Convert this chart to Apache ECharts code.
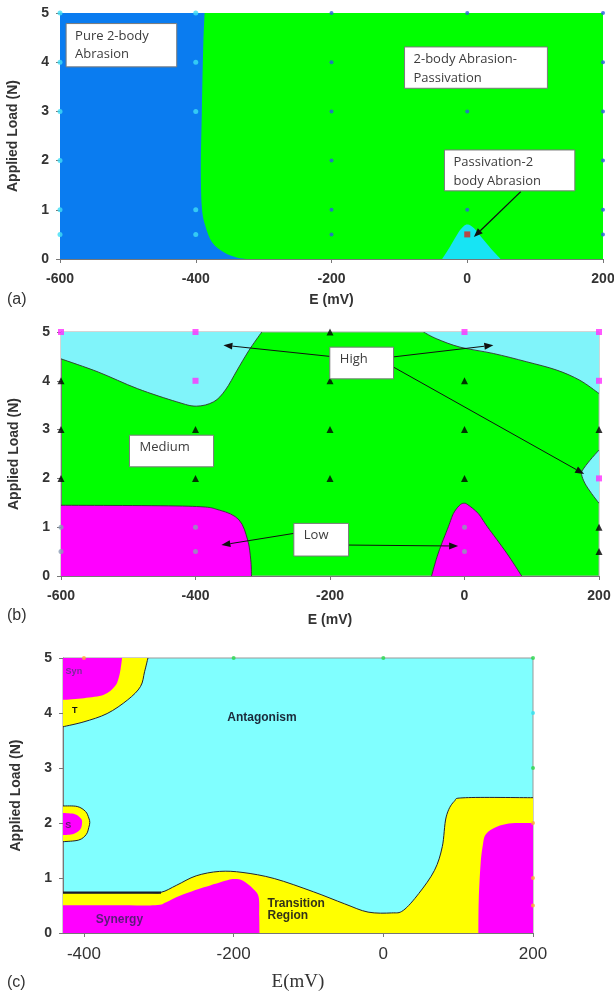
<!DOCTYPE html>
<html><head><meta charset="utf-8">
<script src="https://cdn.jsdelivr.net/npm/echarts@6/dist/echarts.min.js"></script>
<style>html,body{margin:0;padding:0;background:#fff}#c{width:614px;height:992px}</style>
</head><body><div id="c"></div>
<script>
// ---------- axis ticks ----------
const xTicksAB = [-600, -400, -200, 0, 200];
const xTicksC = [-400, -200, 0, 200];
const yTicks = [0, 1, 2, 3, 4, 5];

// ---------- panel (a): region boundaries [E (mV), load (N)] ----------
const aBlueCurve = [[-387,5],[-389,4.3],[-391,3],[-392.5,1.9],[-391,1.05],[-386,0.68],[-376,0.34],[-358,0.13],[-340,0.03],[-326,0]];
const aBlueEdge = [[-600,0],[-600,5]];
const aCyanCurve = [[-37,0],[-25,0.26],[-13.5,0.53],[-5,0.67],[1,0.70],[9.6,0.63],[24,0.39],[38.4,0.155],[49,0]];
const aCyanPts = [[-600,5],[-600,4],[-600,3],[-600,2],[-600,1],[-600,0.5],[-400,5],[-400,4],[-400,3],[-400,1],[-400,0.5]];
const aBluePts = [[-200,5],[-200,4],[-200,3],[-200,2],[-200,1],[-200,0.5],[0,5],[0,4],[0,3],[0,2],[0,1],[200,5],[200,4],[200,3],[200,2],[200,1],[200,0.5]];
const aRedPts = [[0,0.5]];
const aLabelText = [['Pure 2-body','Abrasion'], ['2-body Abrasion-','Passivation'], ['Passivation-2','body Abrasion']];
const aLabelBox = [[-591,4.785,-428,3.905], [-92.4,4.31,118.1,3.47], [-33.6,2.216,158.5,1.385]];
const aArrows = [[[78.9,1.37],[9.7,0.446]]];

// ---------- panel (b) ----------
const bCyanTLCurve = [[-301.5,5],[-320.7,4.62],[-338,4.22],[-355.6,3.81],[-373,3.57],[-399,3.48],[-428,3.57],[-486.5,3.84],[-544.7,4.18],[-600,4.45]];
const bCyanTLEdge = [[-600,5]];
const bCyanTRCurve = [[-61,5],[-41.3,4.86],[-6.7,4.69],[42.8,4.56],[92.4,4.39],[137,4.22],[171.6,4.01],[200,3.74]];
const bCyanTREdge = [[200,5]];
const bCyanRCurve = [[200,2.58],[186.5,2.37],[175.6,2.17],[174.1,2.08],[179,1.90],[189,1.69],[200,1.49]];
const bMagLCurve = [[-600,1.45],[-411,1.43],[-364.4,1.35],[-335.3,1.15],[-322.5,0.74],[-317.8,0.33],[-316.7,0]];
const bMagLEdge = [[-600,0]];
const bMagMCurve = [[-49,0],[-39,0.47],[-24,1.01],[-16.5,1.28],[-8,1.44],[-1.5,1.49],[5,1.46],[20.5,1.28],[34,1.01],[62.7,0.47],[85,0]];
const bSquarePts = [[-600,5],[-400,5],[0,5],[200,5],[-400,4],[200,4],[200,2]];
const bTrianglePts = [[-200,5],[-600,4],[-200,4],[0,4],[-600,3],[-400,3],[-200,3],[0,3],[200,3],[-600,2],[-400,2],[-200,2],[0,2],[200,1],[200,0.5]];
const bGrayPts = [[-600,1],[-600,0.5],[-400,1],[-400,0.5],[0,1],[0,0.5]];
const bLabelText = [['High'], ['Medium'], ['Low']];
const bLabelBox = [[-200.3,4.69,-105.5,4.04], [-498.2,2.885,-373.1,2.237], [-253.8,1.078,-172.4,0.409]];
const bArrows = [
  [[-200.3,4.5],[-358.5,4.73]],
  [[-105.5,4.49],[42.9,4.73]],
  [[-105.5,4.28],[177.9,2.09]],
  [[-253.8,0.873],[-361.5,0.634]],
  [[-172.4,0.634],[-9.5,0.614]]
];

// ---------- panel (c) ----------
const cYelTLCurve = [[-314.5,5],[-319,4.75],[-324.5,4.48],[-341.5,4.24],[-369,3.99],[-400,3.84],[-428,3.75]];
const cMagTLCurve = [[-349,5],[-351,4.8],[-354,4.62],[-359,4.48],[-373.4,4.33],[-400,4.27],[-428,4.24]];
const cTLEdge = [[-428,5]];
const cYelMidCurve = [[-428,2.31],[-409,2.30],[-397.9,2.21],[-393.5,2.09],[-392.2,2.01],[-393.5,1.92],[-397,1.79],[-407,1.69],[-428,1.66]];
const cMagMidCurve = [[-428,2.18],[-412,2.16],[-404,2.08],[-402.5,2.0],[-405,1.88],[-414,1.8],[-428,1.78]];
const cYelBotCurve = [[-428,0.735],[-320,0.735],[-297,0.74],[-276,0.87],[-250,1.04],[-218.8,1.12],[-187.5,1.10],[-145.7,0.99],[-93.5,0.75],[-51.7,0.53],[-20.4,0.38],[11,0.365],[26.6,0.41],[47.5,0.72],[68.4,1.14],[78.8,1.57],[84,2.11],[94.5,2.39],[110,2.46],[200,2.46]];
const cYelBotEdge = [[200,0],[-428,0]];
const cMagBLCurve = [[-428,0.504],[-360,0.504],[-305,0.504],[-290,0.56],[-271,0.68],[-239.7,0.83],[-208.4,0.96],[-198,0.98],[-187.5,0.95],[-174.4,0.81],[-166.6,0.656],[-165.8,0.3],[-165.5,0]];
const cMagBLEdge = [[-428,0]];
const cMagBRCurve = [[127,0],[127.5,0.6],[130,1.26],[133,1.6],[136.3,1.78],[146.7,1.9],[167.6,1.99],[200,2.0]];
const cMagBREdge = [[200,0]];
const cThickLine = [[-428,0.735],[-297,0.735]];
const cOrangePts = [[-400,5],[200,2],[200,1],[200,0.5]];
const cGreenPts = [[-200,5],[0,5],[200,5],[200,3]];
const cCyanPts = [[200,4]];
const cTexts = ['Syn','T','S','Antagonism','Synergy','Transition','Region'];
const cTextPos = [[-424.5,4.75],[-416,4.04],[-425,1.95],[-208.5,3.92],[-384.3,0.243],[-154.8,0.527],[-154.8,0.31]];

// ---------- helpers ----------
function catmull(pts) {
  let d = 'M' + pts[0][0] + ' ' + pts[0][1];
  for (let i = 0; i < pts.length - 1; i++) {
    const p0 = pts[i-1] || pts[i], p1 = pts[i], p2 = pts[i+1], p3 = pts[i+2] || pts[i+1];
    const c1x = p1[0] + (p2[0]-p0[0])/6, c1y = p1[1] + (p2[1]-p0[1])/6;
    const c2x = p2[0] - (p3[0]-p1[0])/6, c2y = p2[1] - (p3[1]-p1[1])/6;
    d += ' C' + c1x + ' ' + c1y + ' ' + c2x + ' ' + c2y + ' ' + p2[0] + ' ' + p2[1];
  }
  return d;
}
function regionSeries(gi, regions) {
  return {
    type: 'custom', xAxisIndex: gi, yAxisIndex: gi, clip: true, silent: true, z: 1,
    data: regions.map((r, i) => i),
    renderItem(params, api) {
      const r = regions[params.dataIndex];
      const cp = r.curve.map(p => api.coord(p));
      let d = catmull(cp);
      (r.edge || []).forEach(p => { const q = api.coord(p); d += ' L' + q[0] + ' ' + q[1]; });
      d += ' Z';
      const ch = [{ type: 'path', shape: { pathData: d }, style: { fill: r.color, stroke: 'none' } }];
      if (r.stroke) ch.push({ type: 'path', shape: { pathData: catmull(cp) }, style: { fill: 'none', stroke: r.stroke, lineWidth: r.lw || 1 } });
      return { type: 'group', children: ch };
    }
  };
}
function arrowSeries(gi, arrows, color, lw, hl, hw) {
  return {
    type: 'custom', xAxisIndex: gi, yAxisIndex: gi, clip: false, silent: true, z: 5,
    data: arrows.map((a, i) => i),
    renderItem(params, api) {
      const a = arrows[params.dataIndex];
      const p0 = api.coord(a[0]), p1 = api.coord(a[1]);
      const dx = p1[0]-p0[0], dy = p1[1]-p0[1], L = Math.hypot(dx, dy);
      const ux = dx/L, uy = dy/L;
      const bx = p1[0]-ux*hl, by = p1[1]-uy*hl;
      return { type: 'group', children: [
        { type: 'line', shape: { x1: p0[0], y1: p0[1], x2: bx, y2: by }, style: { stroke: color, lineWidth: lw } },
        { type: 'polygon', shape: { points: [[p1[0], p1[1]], [bx - uy*hw, by + ux*hw], [bx + uy*hw, by - ux*hw]] }, style: { fill: color } }
      ]};
    }
  };
}
function boxSeries(gi, texts, boxes, padX, firstY, lineH, fontSize, color) {
  return {
    type: 'custom', xAxisIndex: gi, yAxisIndex: gi, clip: false, silent: true, z: 6,
    data: texts.map((t, i) => i),
    renderItem(params, api) {
      const b = boxes[params.dataIndex], lines = texts[params.dataIndex];
      const a = api.coord([b[0], b[1]]), c = api.coord([b[2], b[3]]);
      const ch = [{ type: 'rect', shape: { x: a[0], y: a[1], width: c[0]-a[0], height: c[1]-a[1] }, style: { fill: '#fff', stroke: '#7a7a7a', lineWidth: 1 } }];
      lines.forEach((t, k) => ch.push({ type: 'text', x: a[0] + padX, y: a[1] + firstY + k*lineH,
        style: { text: t, fill: color, fontSize: fontSize, fontFamily: '"Open Sans", sans-serif', verticalAlign: 'middle', align: 'left' } }));
      return { type: 'group', children: ch };
    }
  };
}
function scatter(gi, data, symbol, size, color, z) {
  return { type: 'scatter', xAxisIndex: gi, yAxisIndex: gi, data: data, symbol: symbol, symbolSize: size,
    itemStyle: { color: color }, clip: false, silent: true, z: z || 4 };
}
const tickColor = '#777';
function xAxisCfg(gi, min, max, extra) {
  return Object.assign({
    gridIndex: gi, type: 'value', min: min, max: max,
    axisLine: { show: true, onZero: false, lineStyle: { color: tickColor, width: 1 } },
    axisTick: { show: true, length: 4, lineStyle: { color: tickColor } },
    splitLine: { show: false },
    axisLabel: { fontSize: 14, fontWeight: 'bold', color: '#333', margin: 13, fontFamily: 'Liberation Sans' },
    name: 'E (mV)', nameLocation: 'middle', nameGap: 34,
    nameTextStyle: { fontSize: 14, fontWeight: 'bold', color: '#333', fontFamily: 'Liberation Sans' }
  }, extra || {});
}
function yAxisCfg(gi, extra) {
  return Object.assign({
    gridIndex: gi, type: 'value', min: yTicks[0], max: yTicks[yTicks.length-1], interval: 1,
    axisLine: { show: true, onZero: false, lineStyle: { color: tickColor, width: 1 } },
    axisTick: { show: true, length: 4, lineStyle: { color: tickColor } },
    splitLine: { show: false },
    axisLabel: { fontSize: 14, fontWeight: 'bold', color: '#333', margin: 11, fontFamily: 'Liberation Sans' },
    name: 'Applied Load (N)', nameLocation: 'middle', nameRotate: 90, nameGap: 40,
    nameTextStyle: { fontSize: 14, fontWeight: 'bold', color: '#333', fontFamily: 'Liberation Sans' }
  }, extra || {});
}

const chart = echarts.init(document.getElementById('c'), null, { renderer: 'canvas', width: 614, height: 992 });
const option = {
  animation: false,
  grid: [
    { left: 60, top: 13, width: 543, height: 246, show: true, backgroundColor: '#00FF00', borderWidth: 0, outerBoundsMode: 'none', containLabel: false },
    { left: 61, top: 332, width: 538, height: 244, show: true, backgroundColor: '#00FF00', borderColor: '#aaa', borderWidth: 1, outerBoundsMode: 'none', containLabel: false },
    { left: 63, top: 658, width: 470, height: 275, show: true, backgroundColor: '#80FFFF', borderColor: '#999', borderWidth: 1, outerBoundsMode: 'none', containLabel: false }
  ],
  xAxis: [
    xAxisCfg(0, xTicksAB[0], xTicksAB[xTicksAB.length-1], { interval: 200 }),
    xAxisCfg(1, xTicksAB[0], xTicksAB[xTicksAB.length-1], { interval: 200, nameGap: 37 }),
    xAxisCfg(2, -428, xTicksC[xTicksC.length-1], {
      axisLabel: { customValues: xTicksC, fontSize: 17, fontWeight: 'normal', color: '#333', margin: 13, fontFamily: 'Liberation Sans' },
      axisTick: { show: true, length: 4, customValues: xTicksC, lineStyle: { color: tickColor } },
      name: 'E(mV)', nameGap: 40,
      nameTextStyle: { fontSize: 19, fontWeight: 'normal', color: '#333', fontFamily: 'Liberation Serif' }
    })
  ],
  yAxis: [yAxisCfg(0), yAxisCfg(1), yAxisCfg(2, { nameGap: 40 })],
  graphic: [
    { type: 'text', left: 7, top: 292, style: { text: '(a)', fontSize: 16, fill: '#333', fontFamily: 'Liberation Sans' } },
    { type: 'text', left: 7, top: 608, style: { text: '(b)', fontSize: 16, fill: '#333', fontFamily: 'Liberation Sans' } },
    { type: 'text', left: 7, top: 975, style: { text: '(c)', fontSize: 16, fill: '#333', fontFamily: 'Liberation Sans' } }
  ],
  series: [
    // (a)
    regionSeries(0, [
      { curve: aBlueCurve, edge: aBlueEdge, color: '#0A7CF0' },
      { curve: aCyanCurve, color: '#17E4F4' }
    ]),
    scatter(0, aCyanPts, 'circle', 5, '#3FDDF5'),
    scatter(0, aBluePts, 'circle', 4, '#2A5EE0'),
    scatter(0, aRedPts, 'rect', 6, '#E0201C'),
    arrowSeries(0, aArrows, '#111', 1.3, 9, 3.5),
    boxSeries(0, aLabelText, aLabelBox, 9, 12.5, 18.5, 13, '#3c3c3c'),
    // (b)
    regionSeries(1, [
      { curve: bCyanTLCurve, edge: bCyanTLEdge, color: '#80F4FA', stroke: '#333', lw: 0.9 },
      { curve: bCyanTRCurve, edge: bCyanTREdge, color: '#80F4FA', stroke: '#333', lw: 0.9 },
      { curve: bCyanRCurve, color: '#80F4FA', stroke: '#333', lw: 0.9 },
      { curve: bMagLCurve, edge: bMagLEdge, color: '#FF00FF', stroke: '#333', lw: 0.9 },
      { curve: bMagMCurve, color: '#FF00FF', stroke: '#333', lw: 0.9 }
    ]),
    scatter(1, bSquarePts, 'rect', 6, '#FF2EFF'),
    scatter(1, bTrianglePts, 'triangle', 7, '#000'),
    scatter(1, bGrayPts, 'circle', 5, '#8C9DB5'),
    arrowSeries(1, bArrows, '#111', 1, 9, 3.5),
    boxSeries(1, bLabelText, bLabelBox, 10, 12, 18, 13, '#3c3c3c'),
    // (c)
    regionSeries(2, [
      { curve: cYelTLCurve, edge: cTLEdge, color: '#FFFF00', stroke: '#223', lw: 1 },
      { curve: cMagTLCurve, edge: cTLEdge, color: '#FF00FF' },
      { curve: cYelMidCurve, color: '#FFFF00', stroke: '#223', lw: 1 },
      { curve: cMagMidCurve, color: '#FF00FF' },
      { curve: cYelBotCurve, edge: cYelBotEdge, color: '#FFFF00', stroke: '#223', lw: 1 },
      { curve: cMagBLCurve, edge: cMagBLEdge, color: '#FF00FF' },
      { curve: cMagBRCurve, edge: cMagBREdge, color: '#FF00FF' }
    ]),
    { type: 'line', xAxisIndex: 2, yAxisIndex: 2, data: cThickLine, symbol: 'none', silent: true, z: 3,
      lineStyle: { color: '#1a1a2a', width: 2.2 } },
    scatter(2, cOrangePts, 'circle', 4, '#FFB030'),
    scatter(2, cGreenPts, 'circle', 4, '#2BD84A'),
    scatter(2, cCyanPts, 'circle', 4, '#2FE3F2'),
    {
      type: 'custom', xAxisIndex: 2, yAxisIndex: 2, clip: false, silent: true, z: 6,
      data: cTexts.map((t, i) => i),
      renderItem(params, api) {
        const i = params.dataIndex;
        const p = api.coord(cTextPos[i]);
        const styles = [
          { c: '#7a2a9a', s: 9 }, { c: '#111', s: 9 }, { c: '#5a1a6a', s: 9 },
          { c: '#1a2a3a', s: 12 }, { c: '#5a1a7a', s: 12 }, { c: '#333318', s: 12 }, { c: '#333318', s: 12 }
        ][i];
        return { type: 'text', x: p[0], y: p[1], style: { text: cTexts[i], fill: styles.c, fontSize: styles.s,
          fontWeight: 'bold', fontFamily: 'Liberation Sans', verticalAlign: 'middle', align: 'left' } };
      }
    }
  ]
};
chart.setOption(option);
</script>
</body></html>
